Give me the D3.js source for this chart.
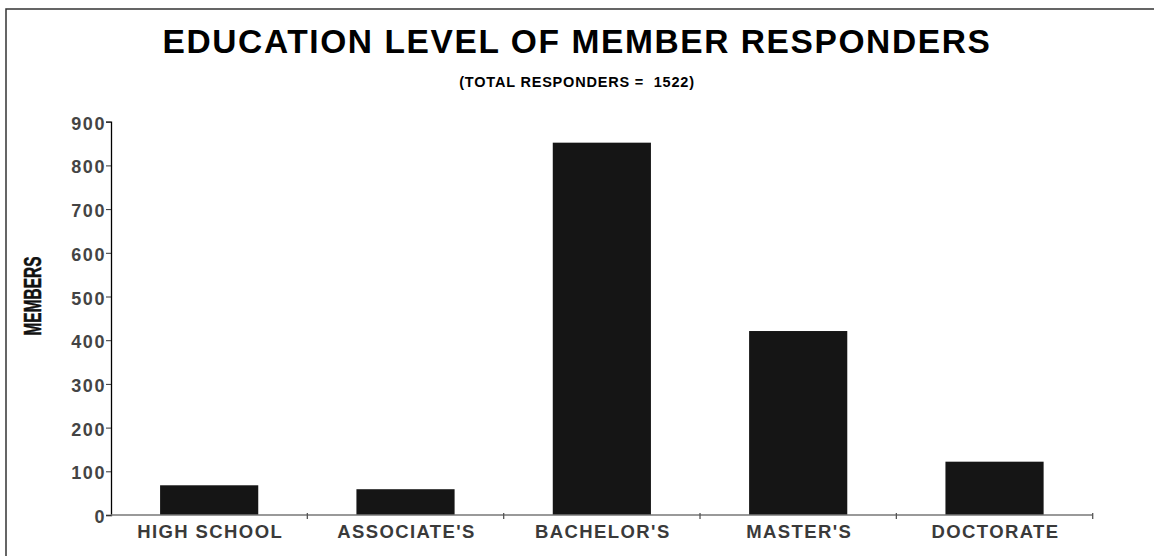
<!DOCTYPE html>
<html>
<head>
<meta charset="utf-8">
<script src="https://cdn.jsdelivr.net/npm/d3@7"></script>
<style>
  body { margin: 0; background: #fff; }
  svg { display: block; font-family: "Liberation Sans", Arial, sans-serif; font-weight: bold; }
</style>
</head>
<body>
<svg id="chart" width="1154" height="556"></svg>
<script>
// data
var categories = ["HIGH SCHOOL", "ASSOCIATE'S", "BACHELOR'S", "MASTER'S", "DOCTORATE"];
var members = [68, 59, 852, 421, 122];
var yTicks = [0, 100, 200, 300, 400, 500, 600, 700, 800, 900];
var totalResponders = 1522;

var svg = d3.select("#chart"),
	W = +svg.attr("width"),
	H = +svg.attr("height");

// outer frame
svg.append("rect")
	.attr("x", 6).attr("y", 9)
	.attr("width", W).attr("height", H)
	.attr("fill", "none")
	.attr("stroke", "#333")
	.attr("stroke-width", 1.5);

var plotLeft = 111, plotRight = 1092.7, plotTop = 121.7, plotBottom = 515;

var x = d3.scaleBand()
	.domain(categories)
	.range([plotLeft, plotRight])
	.paddingInner(0.5)
	.paddingOuter(0.25);

var y = d3.scaleLinear()
	.domain([0, 900])
	.range([plotBottom, plotTop]);

// title
svg.append("text")
	.attr("x", 577).attr("y", 53)
	.attr("text-anchor", "middle")
	.attr("font-size", "33.5px")
	.attr("letter-spacing", "1.6px")
	.attr("fill", "#000")
	.text("EDUCATION LEVEL OF MEMBER RESPONDERS");

svg.append("text")
	.attr("x", 577).attr("y", 86.5)
	.attr("text-anchor", "middle")
	.attr("font-size", "14.5px")
	.attr("letter-spacing", "0.8px")
	.style("white-space", "pre")
	.attr("fill", "#000")
	.text("(TOTAL RESPONDERS =  " + totalResponders + ")");

// bars
svg.selectAll(".bar")
	.data(members)
	.join("rect")
	.attr("class", "bar")
	.attr("x", function (d, i) { return x(categories[i]); })
	.attr("width", x.bandwidth())
	.attr("y", function (d) { return y(d); })
	.attr("height", function (d) { return y(0) - y(d); })
	.attr("fill", "#151515");

// y axis
var yAxis = svg.append("g")
	.attr("transform", "translate(" + plotLeft + ",0)")
	.call(d3.axisLeft(y).tickValues(yTicks).tickSize(5).tickPadding(0));
yAxis.select(".domain").attr("stroke", "#000").attr("stroke-width", 1.3);
yAxis.selectAll(".tick line").attr("stroke", "#333");
yAxis.selectAll(".tick text")
	.attr("font-family", "'Liberation Sans', Arial, sans-serif")
	.attr("font-weight", "bold")
	.attr("font-size", "18px")
	.attr("letter-spacing", "1.6px")
	.attr("dy", "0.42em")
	.attr("fill", "#444");

// x axis
var xg = svg.append("g");
xg.append("line")
	.attr("x1", plotLeft).attr("x2", plotRight)
	.attr("y1", plotBottom).attr("y2", plotBottom)
	.attr("stroke", "#777").attr("stroke-width", 1.5);
var bounds = categories.map(function (c) { return x(c) - x.step() * x.paddingOuter(); });
bounds.push(plotRight);
xg.selectAll(".xtick")
	.data(bounds.slice(1))
	.join("line")
	.attr("class", "xtick")
	.attr("x1", function (d) { return d; })
	.attr("x2", function (d) { return d; })
	.attr("y1", plotBottom - 2).attr("y2", plotBottom + 4)
	.attr("stroke", "#555").attr("stroke-width", 1.3);
xg.selectAll(".xlabel")
	.data(categories)
	.join("text")
	.attr("class", "xlabel")
	.attr("x", function (d) { return x(d) + x.bandwidth() / 2 + 1; })
	.attr("y", plotBottom + 22.7)
	.attr("text-anchor", "middle")
	.attr("font-size", "18.5px")
	.attr("letter-spacing", "1.4px")
	.attr("fill", "#3a3a3a")
	.text(function (d) { return d; });

// y axis title
svg.append("text")
	.attr("transform", "translate(41,296) rotate(-90)")
	.attr("text-anchor", "middle")
	.attr("font-size", "23px")
	.attr("textLength", 79)
	.attr("lengthAdjust", "spacingAndGlyphs")
	.attr("fill", "#111")
	.attr("stroke", "#111")
	.attr("stroke-width", 0.5)
	.text("MEMBERS");
</script>
</body>
</html>
